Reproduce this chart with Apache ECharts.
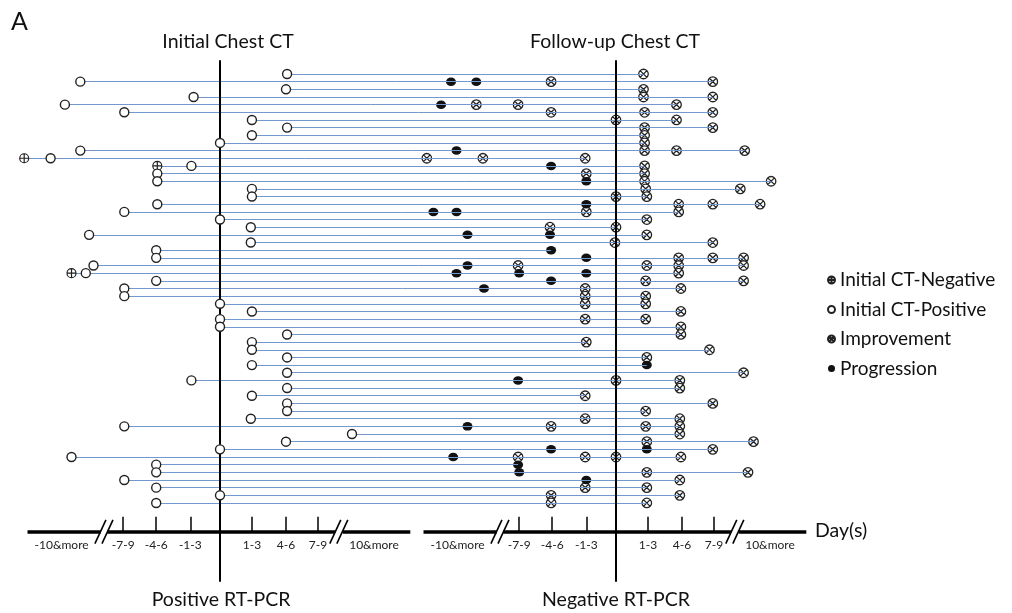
<!DOCTYPE html>
<html><head><meta charset="utf-8">
<script src="https://cdn.jsdelivr.net/npm/echarts@6/dist/echarts.min.js"></script>
<style>html,body{margin:0;padding:0;background:#fff}#c{width:1012px;height:613px}</style>
</head><body><div id="c"></div>
<script>
// ---- DATA ----
// Rows are patients (1 = top). Initial CT days are relative to positive RT-PCR;
// follow-up CT days are relative to negative RT-PCR.
const initialNeg = [[12,-17.8],[13,-5.7],[27,-13.5]];
const initialPos = [
  [1,6.1],[2,-12.7],[3,6.0],[4,-2.4],[5,-14.1],[6,-8.7],[7,2.9],[8,6.1],[9,2.9],[10,0],
  [11,-12.7],[12,-15.4],[13,-2.6],[14,-5.7],[15,-5.7],[16,2.9],[17,2.9],[18,-5.7],[19,-8.7],[20,0],
  [21,2.8],[22,-11.9],[23,2.8],[24,-5.8],[25,-5.8],[26,-11.5],[27,-12.2],[28,-5.8],[29,-8.7],[30,-8.7],
  [31,0],[32,2.9],[33,0],[34,0],[35,6.1],[36,2.9],[37,2.9],[38,6.1],[39,2.9],[40,6.1],
  [41,-2.6],[42,6.1],[43,2.9],[44,6.1],[45,6.1],[46,2.8],[47,-8.7],[48,12.0],[49,6.0],[50,0],
  [51,-13.5],[52,-5.8],[53,-5.8],[54,-8.7],[55,-5.8],[56,0],[57,-5.8]
];
const improvement = [
  [1,2.5],[2,-5.9],[2,8.8],[3,2.5],[4,2.5],[4,8.8],[5,-12.7],[5,-8.9],[5,5.5],
  [6,-5.9],[6,2.6],[6,8.8],[7,0],[7,5.5],[8,2.6],[8,8.8],[9,2.6],[10,2.6],
  [11,2.6],[11,5.5],[11,11.7],[12,-17.2],[12,-12.1],[12,-2.8],[13,2.6],[14,-2.7],[14,2.6],
  [15,2.6],[15,14.1],[16,2.7],[16,11.3],[17,0],[17,2.8],[18,5.7],[18,8.8],[18,13.1],
  [19,-2.7],[19,5.7],[20,2.8],[21,-6.0],[21,0],[22,2.8],[23,-0.1],[23,8.8],
  [25,5.7],[25,8.8],[25,11.6],[26,-8.9],[26,2.8],[26,5.7],[26,11.6],[27,5.7],
  [28,2.7],[28,11.6],[29,-2.8],[29,5.9],[30,-2.8],[30,2.7],[31,-2.8],[31,2.7],[32,5.9],
  [33,-2.8],[33,2.7],[34,5.9],[35,5.9],[36,-2.7],[37,8.5],[38,2.8],[40,11.6],
  [41,0],[41,5.8],[42,5.8],[43,-2.8],[44,8.8],[45,2.7],[46,-2.8],[46,5.8],
  [47,-5.9],[47,2.7],[47,5.8],[48,5.8],[49,2.8],[49,12.5],[50,8.8],
  [51,-8.9],[51,-2.8],[51,0],[51,5.9],[53,2.8],[53,12.0],[54,5.8],[55,-2.8],[55,2.8],
  [56,-5.9],[56,5.8],[57,-5.9],[57,2.8]
];
const progression = [
  [2,-15.0],[2,-12.7],[5,-15.9],[11,-14.5],[13,-5.9],[15,-2.7],[18,-2.7],[19,-16.6],[19,-14.5],
  [22,-13.5],[22,-6.0],[24,-5.9],[25,-2.7],[26,-13.5],[27,-14.5],[27,-8.8],[27,-2.7],
  [28,-5.9],[29,-12.0],[39,2.8],[41,-8.9],[47,-13.5],[50,-5.9],[50,2.8],[51,-14.8],
  [52,-8.9],[53,-8.8],[54,-2.7]
];
const tickDays = [-8.8, -5.8, -2.7, 2.9, 6.0, 8.9];
const tickLabels = ['-7-9', '-4-6', '-1-3', '1-3', '4-6', '7-9'];
const farDays = [-14.4, 14.0];
const farLabels = ['-10&more', '10&more'];
const panelTitlesTop = ['Initial Chest CT', 'Follow-up Chest CT'];
const panelTitlesBottom = ['Positive RT-PCR', 'Negative RT-PCR'];
const legendNames = ['Initial CT-Negative', 'Initial CT-Positive', 'Improvement', 'Progression'];

// ---- LAYOUT ----
const FOLLOW_OFFSET = 36;          // follow-up panel zero on the shared day scale
const AXIS_ROW = 60.75;            // row coordinate of the broken time axis
const VLINE_TOP = -0.8, VLINE_BOTTOM = 67.3;
const AXIS_SEGS = [[-17.5, -10.85], [-10.25, 10.45], [11.15, 17.3]];
const BREAKS = [-10.55, 10.8];
const FONT = 'Lato, "Liberation Sans", sans-serif';

const L = d => d;
const R = d => d + FOLLOW_OFFSET;

const negPts = initialNeg.map(([r, d]) => [L(d), r]);
const posPts = initialPos.map(([r, d]) => [L(d), r]);
const impPts = improvement.map(([r, d]) => [R(d), r]);
const proPts = progression.map(([r, d]) => [R(d), r]);

// per-row horizontal span
const span = {};
[...negPts, ...posPts, ...impPts, ...proPts].forEach(([x, r]) => {
  if (!span[r]) span[r] = [x, x];
  span[r][0] = Math.min(span[r][0], x);
  span[r][1] = Math.max(span[r][1], x);
});
const rowLines = Object.keys(span).map(r => ({ coords: [[span[r][0], +r], [span[r][1], +r]] }));

const axisLines = [];
const slashLines = [];
[0, FOLLOW_OFFSET].forEach(off => {
  AXIS_SEGS.forEach(([a, b]) => axisLines.push({ coords: [[a + off, AXIS_ROW], [b + off, AXIS_ROW]] }));
  BREAKS.forEach(c => {
    [-0.32, 0.32].forEach(dx => {
      slashLines.push({ coords: [[c + off + dx - 0.5, AXIS_ROW + 1.55], [c + off + dx + 0.5, AXIS_ROW - 1.55]] });
    });
  });
});
const vLines = [0, FOLLOW_OFFSET].map(x => ({ coords: [[x, VLINE_TOP], [x, VLINE_BOTTOM]] }));

const labelMap = {};
const labelValues = [];
[0, FOLLOW_OFFSET].forEach(off => {
  tickDays.forEach((d, i) => { labelMap[(d + off).toFixed(2)] = tickLabels[i]; labelValues.push(d + off); });
  farDays.forEach((d, i) => { labelMap[(d + off).toFixed(2)] = farLabels[i]; labelValues.push(d + off); });
});
const tickValues = [...tickDays, ...tickDays.map(d => d + FOLLOW_OFFSET)];

const CIRC = 'M10,5A5,5,0,1,1,0,5A5,5,0,1,1,10,5Z';
const PLUS_PATH = 'path://' + CIRC + 'M5,0L5,10M0,5L10,5';
const X_PATH = 'path://' + CIRC + 'M1.46,1.46L8.54,8.54M8.54,1.46L1.46,8.54';

const TITLE_FONT = '19.5px ' + FONT;
const chart = echarts.init(document.getElementById('c'), null, { renderer: 'canvas' });
chart.setOption({
  animation: false,
  backgroundColor: '#fff',
  grid: { left: 0, right: 0, top: 66.34, bottom: 81.3, containLabel: false, outerBoundsMode: 'none' },
  xAxis: {
    type: 'value', min: -20, max: 72, position: 'bottom',
    axisLine: { show: false, onZero: false },
    splitLine: { show: false },
    axisTick: { show: true, inside: true, length: 15, customValues: tickValues, lineStyle: { color: '#111', width: 1.6 } },
    axisLabel: {
      show: true, customValues: labelValues, margin: 7,
      fontFamily: FONT, fontSize: 12, color: '#222',
      formatter: v => labelMap[Number(v).toFixed(2)] || ''
    }
  },
  yAxis: { type: 'value', inverse: true, min: 0, max: AXIS_ROW, show: false },
  legend: {
    orient: 'vertical', left: 822, top: 264,
    itemWidth: 7, itemHeight: 7, itemGap: 7.5,
    textStyle: { fontFamily: FONT, fontSize: 19, color: '#111', lineHeight: 22 },
    selectedMode: false,
    data: [
      { name: legendNames[0], icon: PLUS_PATH },
      { name: legendNames[1], icon: 'circle' },
      { name: legendNames[2], icon: X_PATH },
      { name: legendNames[3], icon: 'circle' }
    ]
  },
  graphic: [
    { type: 'text', x: 11, y: 9, style: { text: 'A', font: '25px ' + FONT, fill: '#111' } },
    { type: 'text', x: 228, y: 42, style: { text: panelTitlesTop[0], font: TITLE_FONT, fill: '#111', align: 'center', verticalAlign: 'middle' } },
    { type: 'text', x: 615, y: 42, style: { text: panelTitlesTop[1], font: TITLE_FONT, fill: '#111', align: 'center', verticalAlign: 'middle' } },
    { type: 'text', x: 221, y: 600, style: { text: panelTitlesBottom[0], font: TITLE_FONT, fill: '#111', align: 'center', verticalAlign: 'middle' } },
    { type: 'text', x: 616, y: 600, style: { text: panelTitlesBottom[1], font: TITLE_FONT, fill: '#111', align: 'center', verticalAlign: 'middle' } },
    { type: 'text', x: 815, y: 531, style: { text: 'Day(s)', font: TITLE_FONT, fill: '#111', align: 'left', verticalAlign: 'middle' } }
  ],
  series: [
    { name: legendNames[2], type: 'scatter', clip: false, silent: true, z: 3,
      symbol: X_PATH, symbolSize: 9.5,
      itemStyle: { color: '#fff', borderColor: '#222', borderWidth: 1.3, opacity: 1 }, data: impPts },
    { name: legendNames[3], type: 'scatter', clip: false, silent: true, z: 3,
      symbol: 'circle', symbolSize: [10, 8.5],
      itemStyle: { color: '#111', opacity: 1 }, data: proPts },
    { type: 'lines', coordinateSystem: 'cartesian2d', silent: true, clip: false, z: 4,
      lineStyle: { color: '#7199cc', width: 1, opacity: 1 }, data: rowLines },
    { type: 'lines', coordinateSystem: 'cartesian2d', silent: true, clip: false, z: 4,
      lineStyle: { color: '#000', width: 2, opacity: 1 }, data: vLines },
    { type: 'lines', coordinateSystem: 'cartesian2d', silent: true, clip: false, z: 4,
      lineStyle: { color: '#000', width: 3.6, opacity: 1 }, data: axisLines },
    { type: 'lines', coordinateSystem: 'cartesian2d', silent: true, clip: false, z: 4,
      lineStyle: { color: '#000', width: 1.6, opacity: 1 }, data: slashLines },
    { name: legendNames[0], type: 'scatter', clip: false, silent: true, z: 5,
      symbol: PLUS_PATH, symbolSize: 9,
      itemStyle: { color: '#fff', borderColor: '#222', borderWidth: 1.2, opacity: 1 }, data: negPts },
    { name: legendNames[1], type: 'scatter', clip: false, silent: true, z: 5,
      symbol: 'circle', symbolSize: 9,
      itemStyle: { color: '#fff', borderColor: '#222', borderWidth: 1.4, opacity: 1 }, data: posPts }
  ]
});
</script></body></html>
